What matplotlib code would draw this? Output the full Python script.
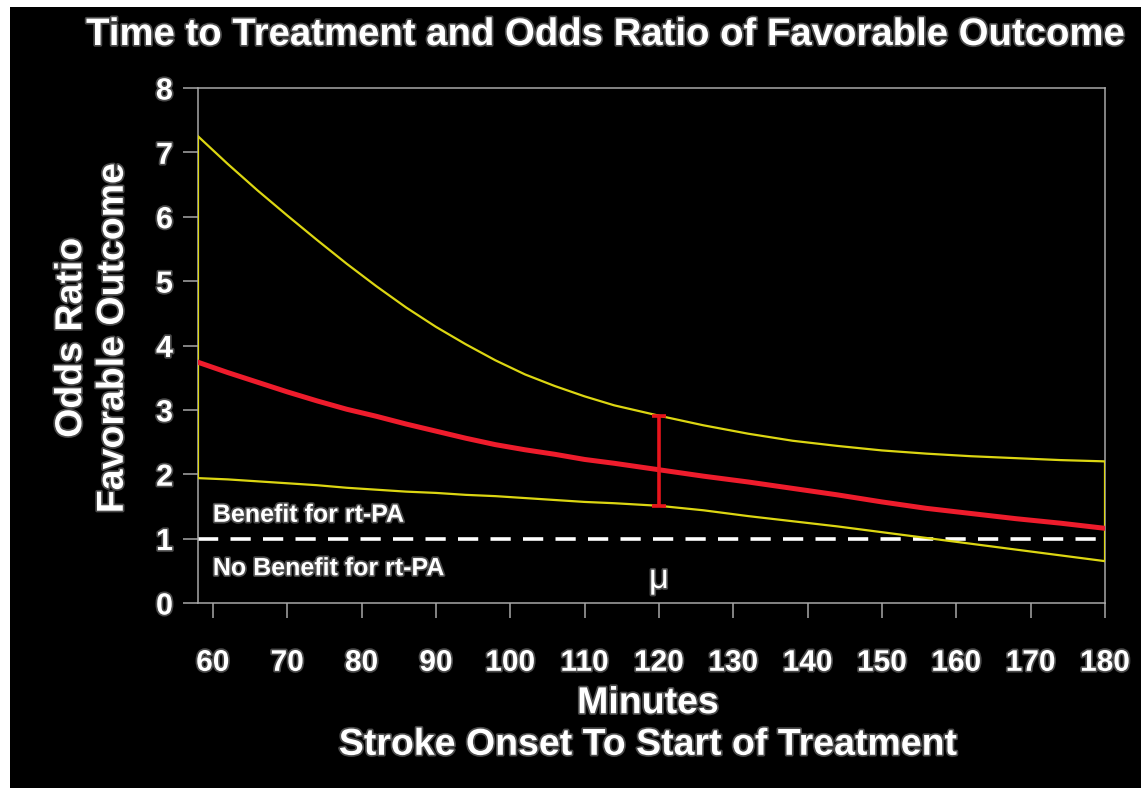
import matplotlib.pyplot as plt
import matplotlib.patheffects as pe
from matplotlib.patches import Rectangle

plt.rcParams['font.family'] = ['Liberation Sans', 'DejaVu Sans']

# odds ratio of favorable outcome vs. onset-to-treatment time
minutes = [58, 62, 66, 70, 74, 78, 82, 86, 90, 94, 98, 102, 106, 110, 114,
           120, 126, 132, 138, 144, 150, 156, 162, 168, 174, 180]
odds_ratio = [3.74, 3.58, 3.43, 3.28, 3.14, 3.01, 2.90, 2.78, 2.67, 2.56,
              2.46, 2.38, 2.31, 2.23, 2.17, 2.07, 1.97, 1.88, 1.78, 1.68,
              1.57, 1.47, 1.39, 1.31, 1.24, 1.16]
ci_upper = [7.25, 6.82, 6.41, 6.02, 5.64, 5.27, 4.92, 4.59, 4.29, 4.02,
            3.77, 3.55, 3.37, 3.21, 3.07, 2.91, 2.76, 2.63, 2.52, 2.44,
            2.37, 2.32, 2.28, 2.25, 2.22, 2.20]
ci_lower = [1.94, 1.92, 1.89, 1.86, 1.83, 1.79, 1.76, 1.73, 1.71, 1.68,
            1.66, 1.63, 1.60, 1.57, 1.55, 1.51, 1.44, 1.35, 1.27, 1.19,
            1.10, 1.01, 0.92, 0.83, 0.74, 0.65]

# interval shown at the mean treatment time
mean_minute = 120
mean_or = 2.07
mean_lo = 1.51
mean_hi = 2.91

x_ticks = list(range(60, 181, 10))
y_ticks = list(range(0, 9))

W, H = 1141, 788
fig = plt.figure(figsize=(W / 100, H / 100), dpi=100)
fig.patch.set_facecolor('white')
fig.patches.append(Rectangle((10 / W, 0), 1, (H - 7) / H, transform=fig.transFigure,
                             facecolor='black', edgecolor='none', zorder=-10))

ax = fig.add_axes([198 / W, 1 - 603 / H, (1105 - 198) / W, (603 - 88) / H])
ax.set_facecolor('black')

glow = [pe.withStroke(linewidth=2.5, foreground='#4a4a4a')]
yellow = '#dcd612'
red = '#ee1c2c'

ax.plot(minutes, ci_upper, color=yellow, lw=1.6, zorder=3)
ax.plot(minutes, ci_lower, color=yellow, lw=1.6, zorder=3)
ax.vlines([minutes[0], minutes[-1]], [ci_lower[0], ci_lower[-1]],
          [ci_upper[0], ci_upper[-1]], color=yellow, lw=1.6, zorder=3)
ax.plot(minutes, odds_ratio, color=red, lw=3.6, zorder=4,
        solid_joinstyle='round')
ax.errorbar([mean_minute], [mean_or],
            yerr=[[mean_or - mean_lo], [mean_hi - mean_or]],
            fmt='none', ecolor='#e8141c', elinewidth=2.6, capsize=5,
            capthick=2.6, zorder=5)

ax.axhline(1, color='white', lw=2.6, dashes=(5.6, 3.4), zorder=2)

ax.text(60, 1.37, 'Benefit for rt-PA', color='white', fontsize=18,
        fontweight='bold', va='center', path_effects=glow)
ax.text(60, 0.54, 'No Benefit for rt-PA', color='white', fontsize=18,
        fontweight='bold', va='center', path_effects=glow)
ax.text(mean_minute, 0.38, '\u03bc', color='white', fontsize=25,
        ha='center', va='center', path_effects=glow)

ax.set_xlim(58, 180)
ax.set_ylim(0, 8)
ax.set_xticks(x_ticks)
ax.set_yticks(y_ticks)

for s in ax.spines.values():
    s.set_color('#a8a8a8')
    s.set_linewidth(1.1)

ax.tick_params(axis='both', direction='out', length=11, width=1.1,
               color='#a8a8a8', labelcolor='white')
ax.tick_params(axis='x', pad=22, labelsize=21.5)
ax.tick_params(axis='y', pad=7, labelsize=22)
for lbl in ax.get_xticklabels() + ax.get_yticklabels():
    lbl.set_fontweight('bold')
    lbl.set_path_effects(glow)

ax.set_ylabel('Odds Ratio\nFavorable Outcome', color='white', fontsize=27,
              fontweight='bold', linespacing=1.2, path_effects=glow)
ax.yaxis.set_label_coords((92 - 198) / 907, (603 - 338) / 515)
ax.yaxis.label.set_va('center')

ax.set_xlabel('Minutes\nStroke Onset To Start of Treatment', color='white',
              fontsize=27, fontweight='bold', linespacing=1.2, path_effects=glow)
ax.xaxis.set_label_coords((648 - 198) / 907, (603 - 724) / 515)
ax.xaxis.label.set_va('center')

fig.text(606 / W, 1 - 35 / H,
         'Time to Treatment and Odds Ratio of Favorable Outcome',
         color='white', fontsize=27.6, fontweight='bold', ha='center',
         va='center', path_effects=glow)

fig.savefig('out.png', dpi=100, facecolor=fig.get_facecolor())
